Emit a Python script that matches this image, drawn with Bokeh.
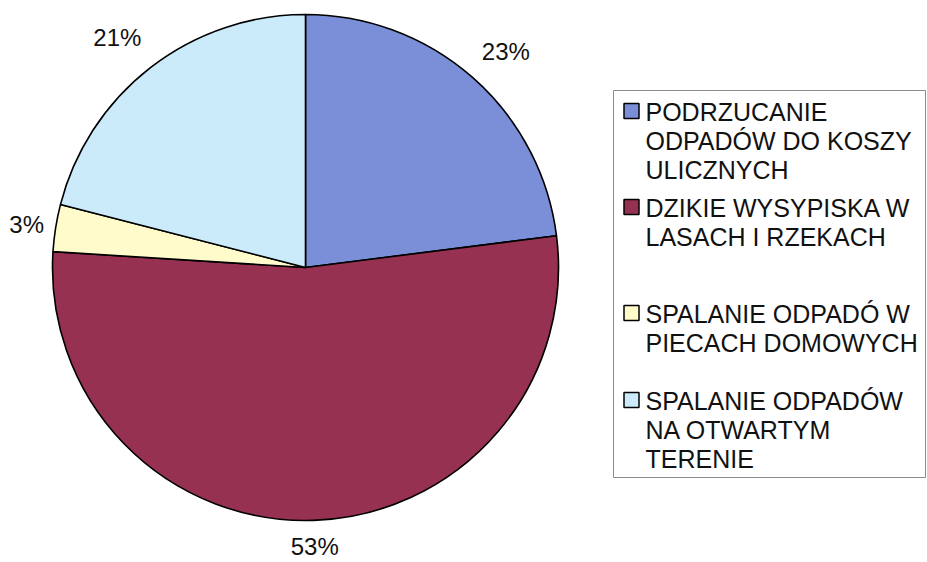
import math
from bokeh.plotting import figure
from bokeh.models import ColumnDataSource, Range1d
from bokeh.core.properties import value
from bokeh.embed import file_html
from bokeh.resources import INLINE

# ---- data ----
categories = [
    "PODRZUCANIE\nODPADÓW DO KOSZY\nULICZNYCH",
    "DZIKIE WYSYPISKA W\nLASACH I RZEKACH",
    "SPALANIE ODPADÓ W\nPIECACH DOMOWYCH",
    "SPALANIE ODPADÓW\nNA OTWARTYM\nTERENIE",
]
shares = [23, 53, 3, 21]
colors = ["#7B8ED8", "#973152", "#FFFBCB", "#CBEBFB"]

# ---- layout (page pixel coordinates; y measured downward from page top) ----
W, H = 927, 562
def Y(y_img):
    return H - y_img

cx, cy, R = 305, Y(267), 253
FONT = value("Liberation Sans")
label_gap = [26, 18, 12, 30]   # distance of each percentage label from the rim

p = figure(width=W, height=H, x_range=Range1d(0, W), y_range=Range1d(0, H),
           output_backend="svg", toolbar_location=None, min_border=0)
p.axis.visible = False
p.grid.visible = False
p.outline_line_color = None
p.background_fill_color = "white"

total = float(sum(shares))
starts, ends, mids = [], [], []
cum = 0.0
for s in shares:
    a0 = math.pi / 2 - cum / total * 2 * math.pi
    cum += s
    a1 = math.pi / 2 - cum / total * 2 * math.pi
    starts.append(a0)
    ends.append(a1)
    mids.append((a0 + a1) / 2)

src = ColumnDataSource(dict(start=starts, end=ends, color=colors))
p.wedge(x=cx, y=cy, radius=R, start_angle="start", end_angle="end", direction="clock",
        fill_color="color", line_color="black", line_width=1.6, source=src)

# percentage labels placed outside the pie
lx, ly, lt = [], [], []
for s, m, g in zip(shares, mids, label_gap):
    txt = f"{s}%"
    w = (0.556 * len(str(s)) + 0.889) * 24
    h = 17
    c, si = math.cos(m), math.sin(m)
    lx.append(cx + (R + g) * c + c * w / 2)
    ly.append(cy + (R + g) * si + si * h / 2)
    lt.append(txt)
p.text(x=lx, y=ly, text=lt, text_align="center", text_baseline="middle",
       text_font=FONT, text_font_size="24px", text_color="#111111")

# legend box
p.quad(left=613, right=925, bottom=Y(477), top=Y(90), fill_color="white", fill_alpha=0,
       line_color="#8a8a8a", line_width=1)

legend_first_line = [110, 206, 312, 399]
line_gap = 29
tx, ty, tt = [], [], []
for lab, y0 in zip(categories, legend_first_line):
    for i, line in enumerate(lab.split("\n")):
        tx.append(645)
        ty.append(Y(y0 + 1 + i * line_gap))
        tt.append(line)
p.rect(x=[631] * 4, y=[Y(y + 0.5) for y in legend_first_line], width=15, height=15,
       fill_color=colors, line_color="black", line_width=1.5)
p.text(x=tx, y=ty, text=tt, text_align="left", text_baseline="middle",
       text_font=FONT, text_font_size="25px", text_color="#111111")

open("out.html", "w").write(file_html(p, INLINE))
